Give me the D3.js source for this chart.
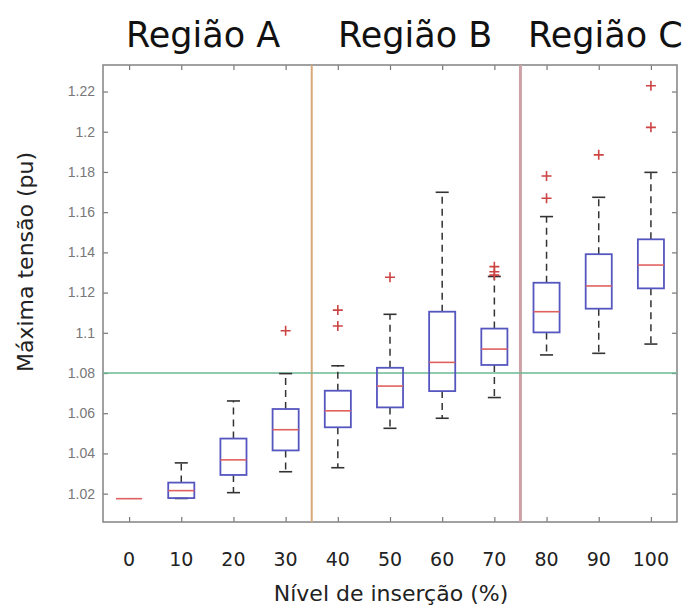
<!DOCTYPE html>
<html>
<head>
<meta charset="utf-8">
<script src="https://cdn.jsdelivr.net/npm/d3@7"></script>
<style>
body { margin: 0; background: #fff; }
svg { display: block; }
</style>
</head>
<body>
<svg id="chart"></svg>
<script>
// insertion level (%) and box statistics
var levels = [0, 10, 20, 30, 40, 50, 60, 70, 80, 90, 100];
var whiskLow = [1.0175, 1.0176, 1.0205, 1.0309, 1.0329, 1.0525, 1.0575, 1.0678, 1.0890, 1.0898, 1.0944];
var q1 = [1.0175, 1.0178, 1.0293, 1.0415, 1.0530, 1.0629, 1.0710, 1.0840, 1.1002, 1.1120, 1.1221];
var med = [1.0175, 1.0215, 1.0368, 1.0518, 1.0612, 1.0735, 1.0853, 1.0919, 1.1105, 1.1233, 1.1337];
var q3 = [1.0175, 1.0255, 1.0474, 1.0621, 1.0712, 1.0826, 1.1105, 1.1021, 1.1249, 1.1391, 1.1465];
var whiskHigh = [1.0175, 1.0353, 1.0661, 1.0797, 1.0836, 1.1092, 1.1699, 1.1280, 1.1578, 1.1674, 1.1798];
var outliers = [[], [], [], [1.1010], [1.1034, 1.1113], [1.1276], [], [1.1287, 1.1304, 1.1329], [1.1669, 1.1780], [1.1885], [1.2022, 1.2229]];
var yTicks = [1.02, 1.04, 1.06, 1.08, 1.1, 1.12, 1.14, 1.16, 1.18, 1.2, 1.22];
var limitValue = 1.08;
var regionBounds = [35, 75];
var regionNames = ["Região A", "Região B", "Região C"];

var w = 689, h = 610;
var pLeft = 103, pRight = 677, pTop = 65, pBottom = 522;

function init(){
	var svg = d3.select("#chart").attr("width", w).attr("height", h);
	var x = d3.scaleLinear().domain([-5, 105]).range([pLeft, pRight]);
	var y = d3.scaleLinear().domain([1.0059, 1.2332]).range([pBottom, pTop]);
	var step = x(10) - x(0);
	var boxW = step*0.5, capW = step*0.25;

	// frame with inward ticks (left/right values, bottom/top categories)
	var g = svg.append("g");
	g.append("g").attr("transform", "translate(" + pLeft + ",0)")
		.call(d3.axisRight(y).tickValues(yTicks).tickSize(5).tickFormat(""));
	g.append("g").attr("transform", "translate(" + pRight + ",0)")
		.call(d3.axisLeft(y).tickValues(yTicks).tickSize(5).tickFormat(""));
	g.append("g").attr("transform", "translate(0," + pBottom + ")")
		.call(d3.axisTop(x).tickValues(levels).tickSize(5).tickFormat(""));
	g.append("g").attr("transform", "translate(0," + pTop + ")")
		.call(d3.axisBottom(x).tickValues(levels).tickSize(5).tickFormat(""));
	g.selectAll(".domain").remove();
	g.selectAll(".tick line").attr("stroke", "#777").attr("stroke-width", 1.2);
	svg.append("rect").attr("x", pLeft).attr("y", pTop)
		.attr("width", pRight - pLeft).attr("height", pBottom - pTop)
		.attr("fill", "none").attr("stroke", "#8a8a8a").attr("stroke-width", 1.6);

	// y tick labels
	svg.selectAll(".ylab").data(yTicks).enter().append("text")
		.attr("x", pLeft - 8).attr("y", function(d){ return y(d); })
		.attr("dy", "0.35em").attr("text-anchor", "end")
		.attr("font-family", "Liberation Sans, Arial, sans-serif")
		.attr("font-size", 14).attr("fill", "#777")
		.text(function(d){ return String(+d.toFixed(2)); });

	// x tick labels
	svg.selectAll(".xlab").data(levels).enter().append("text")
		.attr("x", function(d){ return x(d); }).attr("y", 566)
		.attr("text-anchor", "middle")
		.attr("font-family", "DejaVu Sans, sans-serif")
		.attr("font-size", 19).attr("fill", "#222")
		.text(function(d){ return d; });

	// region separators and limit line
	svg.append("line").attr("x1", x(regionBounds[0])).attr("x2", x(regionBounds[0]))
		.attr("y1", pTop).attr("y2", pBottom).attr("stroke", "#d8a878").attr("stroke-width", 2);
	svg.append("line").attr("x1", x(regionBounds[1])).attr("x2", x(regionBounds[1]))
		.attr("y1", pTop).attr("y2", pBottom).attr("stroke", "#cda2a6").attr("stroke-width", 3);
	svg.append("line").attr("x1", pLeft).attr("x2", pRight)
		.attr("y1", y(limitValue)).attr("y2", y(limitValue))
		.attr("stroke", "#6ab894").attr("stroke-width", 1.5);

	// boxes
	for(var i = 0; i<levels.length; i++){
		var cx = x(levels[i]);
		var b = svg.append("g");
		b.append("line").attr("x1", cx).attr("x2", cx)
			.attr("y1", y(q3[i])).attr("y2", y(whiskHigh[i]))
			.attr("stroke", "#333").attr("stroke-width", 1.5).attr("stroke-dasharray", "7,5");
		b.append("line").attr("x1", cx).attr("x2", cx)
			.attr("y1", y(q1[i])).attr("y2", y(whiskLow[i]))
			.attr("stroke", "#333").attr("stroke-width", 1.5).attr("stroke-dasharray", "7,5");
		if (q3[i] > q1[i]){
			[whiskHigh[i], whiskLow[i]].forEach(function(v){
				b.append("line").attr("x1", cx - capW/2).attr("x2", cx + capW/2)
					.attr("y1", y(v)).attr("y2", y(v)).attr("stroke", "#333").attr("stroke-width", 1.6);
			});
			b.append("rect").attr("x", cx - boxW/2).attr("y", y(q3[i]))
				.attr("width", boxW).attr("height", y(q1[i]) - y(q3[i]))
				.attr("fill", "none").attr("stroke", "#5656c0").attr("stroke-width", 1.8);
		}
		b.append("line").attr("x1", cx - boxW/2).attr("x2", cx + boxW/2)
			.attr("y1", y(med[i])).attr("y2", y(med[i]))
			.attr("stroke", "#e06060").attr("stroke-width", 1.6);
		outliers[i].forEach(function(v){
			b.append("path")
				.attr("d", "M" + (cx - 5) + "," + y(v) + "h10M" + cx + "," + (y(v) - 5) + "v10")
				.attr("stroke", "#cc4444").attr("stroke-width", 1.6);
		});
	}

	// titles and axis labels
	var starts = [126, 338, 528];
	svg.selectAll(".region").data(regionNames).enter().append("text")
		.attr("x", function(d, i){ return starts[i]; }).attr("y", 47)
		.attr("font-family", "DejaVu Sans, sans-serif")
		.attr("font-size", 35).attr("fill", "#111")
		.text(function(d){ return d; });
	svg.append("text").attr("x", 391).attr("y", 601).attr("text-anchor", "middle")
		.attr("font-family", "DejaVu Sans, sans-serif").attr("font-size", 22).attr("fill", "#222")
		.text("Nível de inserção (%)");
	svg.append("text").attr("transform", "translate(33,262) rotate(-90)").attr("text-anchor", "middle")
		.attr("font-family", "DejaVu Sans, sans-serif").attr("font-size", 22).attr("fill", "#222")
		.text("Máxima tensão (pu)");
}
init();
</script>
</body>
</html>
